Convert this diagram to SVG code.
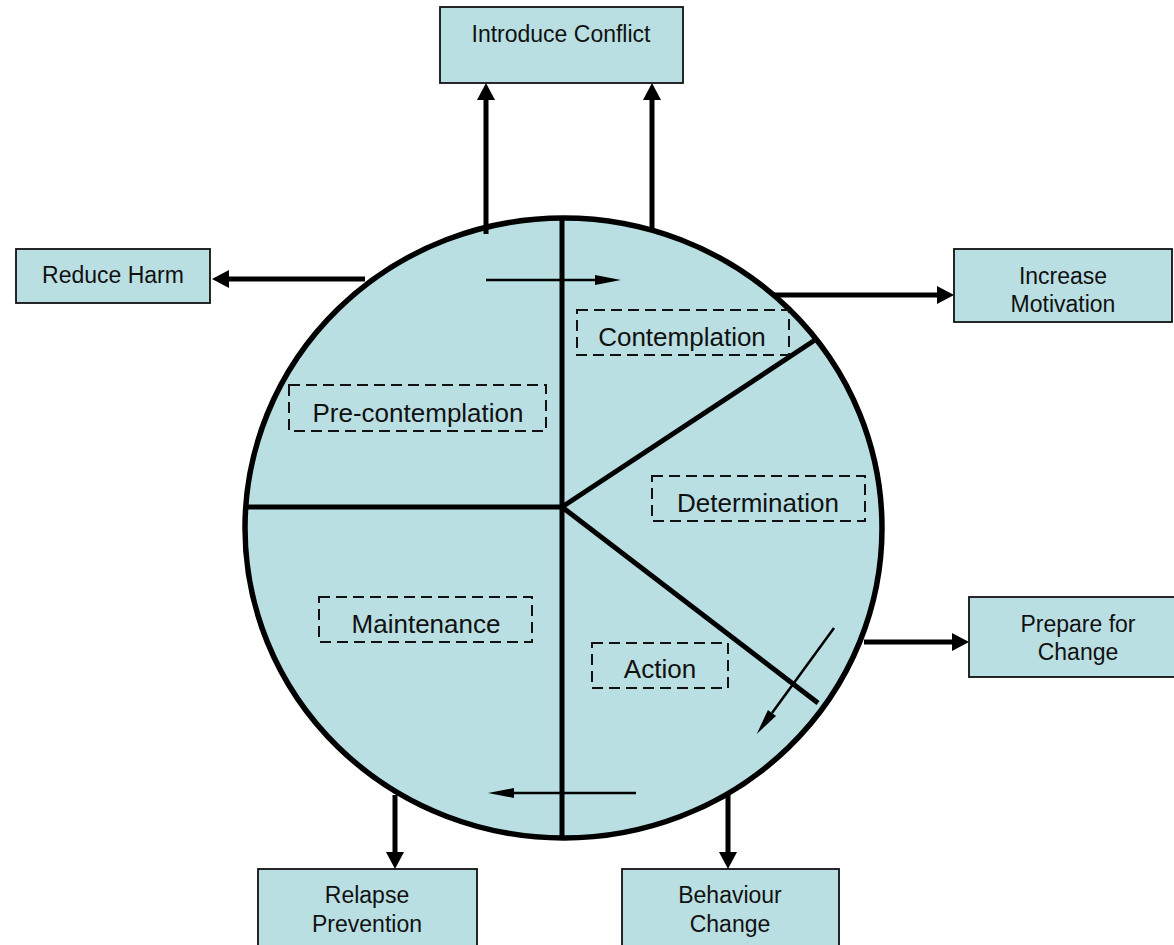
<svg xmlns="http://www.w3.org/2000/svg" width="1174" height="945" viewBox="0 0 1174 945">
<defs>
<style>
.box{fill:#B9DFE2;stroke:#111;stroke-width:1.8}
.lbl{font-family:"Liberation Sans",Arial,sans-serif;font-size:23px;fill:#111;text-anchor:middle}
.stage{font-family:"Liberation Sans",Arial,sans-serif;font-size:26px;fill:#111;text-anchor:middle}
.dash{fill:none;stroke:#111;stroke-width:2;stroke-dasharray:11 6}
.thick{stroke:#000;stroke-width:5;fill:none;marker-end:url(#big)}
.thin{stroke:#000;stroke-width:2.5;fill:none;marker-end:url(#small)}
.div{stroke:#000;stroke-width:5;fill:none}
</style>
<marker id="big" markerUnits="userSpaceOnUse" markerWidth="17" markerHeight="18" refX="0" refY="9" orient="auto" overflow="visible">
<path d="M0,0 L17,9 L0,18 z" fill="#000"/>
</marker>
<marker id="small" markerUnits="userSpaceOnUse" markerWidth="26" markerHeight="10" refX="0" refY="5" orient="auto" overflow="visible">
<path d="M0,0 L26,5 L0,10 z" fill="#000"/>
</marker>
</defs>
<rect width="1174" height="945" fill="#fff"/>

<g id="wheel">
<ellipse cx="563.5" cy="528" rx="318.5" ry="310" fill="#B9DFE2" stroke="#000" stroke-width="5.5"/>
<line class="div" x1="562" y1="220" x2="562" y2="836"/>
<line class="div" x1="246" y1="507" x2="562" y2="507"/>
<line class="div" x1="562" y1="507" x2="815" y2="340"/>
<line class="div" x1="562" y1="507" x2="818" y2="703"/>
</g>

<g id="pre-contemplation">
<rect class="dash" x="289" y="385" width="257" height="46"/>
<text class="stage" x="418" y="422">Pre-contemplation</text>
</g>
<g id="contemplation">
<rect class="dash" x="577" y="310" width="212" height="45"/>
<text class="stage" x="682" y="346">Contemplation</text>
</g>
<g id="determination">
<rect class="dash" x="652" y="476" width="213" height="45"/>
<text class="stage" x="758" y="512">Determination</text>
</g>
<g id="action">
<rect class="dash" x="592" y="643" width="136" height="45"/>
<text class="stage" x="660" y="678">Action</text>
</g>
<g id="maintenance">
<rect class="dash" x="319" y="597" width="213" height="45"/>
<text class="stage" x="426" y="633">Maintenance</text>
</g>

<g id="introduce-conflict">
<rect class="box" x="440" y="7" width="243" height="76"/>
<text class="lbl" x="561" y="42">Introduce Conflict</text>
</g>
<g id="reduce-harm">
<rect class="box" x="16" y="249" width="194" height="54"/>
<text class="lbl" x="113" y="283">Reduce Harm</text>
</g>
<g id="increase-motivation">
<rect class="box" x="954" y="249" width="218" height="73"/>
<text class="lbl" x="1063" y="284">Increase</text>
<text class="lbl" x="1063" y="312">Motivation</text>
</g>
<g id="prepare-for-change">
<rect class="box" x="969" y="597" width="218" height="80"/>
<text class="lbl" x="1078" y="632">Prepare for</text>
<text class="lbl" x="1078" y="660">Change</text>
</g>
<g id="relapse-prevention">
<rect class="box" x="258" y="869" width="219" height="90"/>
<text class="lbl" x="367" y="903">Relapse</text>
<text class="lbl" x="367" y="932">Prevention</text>
</g>
<g id="behaviour-change">
<rect class="box" x="622" y="869" width="217" height="90"/>
<text class="lbl" x="730" y="903">Behaviour</text>
<text class="lbl" x="730" y="932">Change</text>
</g>

<g id="connectors">
<line class="thick" x1="486" y1="234" x2="486" y2="100"/>
<line class="thick" x1="652" y1="230" x2="652" y2="100"/>
<line class="thick" x1="365" y1="279" x2="229" y2="279"/>
<line class="thick" x1="773" y1="295" x2="937" y2="295"/>
<line class="thick" x1="864" y1="642" x2="952" y2="642"/>
<line class="thick" x1="395" y1="795" x2="395" y2="852"/>
<line class="thick" x1="728" y1="792" x2="728" y2="852"/>
<line class="thin" x1="486" y1="280" x2="595" y2="280"/>
<line class="thin" x1="834" y1="628" x2="772" y2="713"/>
<line class="thin" x1="636" y1="793" x2="514" y2="793"/>
</g>
</svg>
